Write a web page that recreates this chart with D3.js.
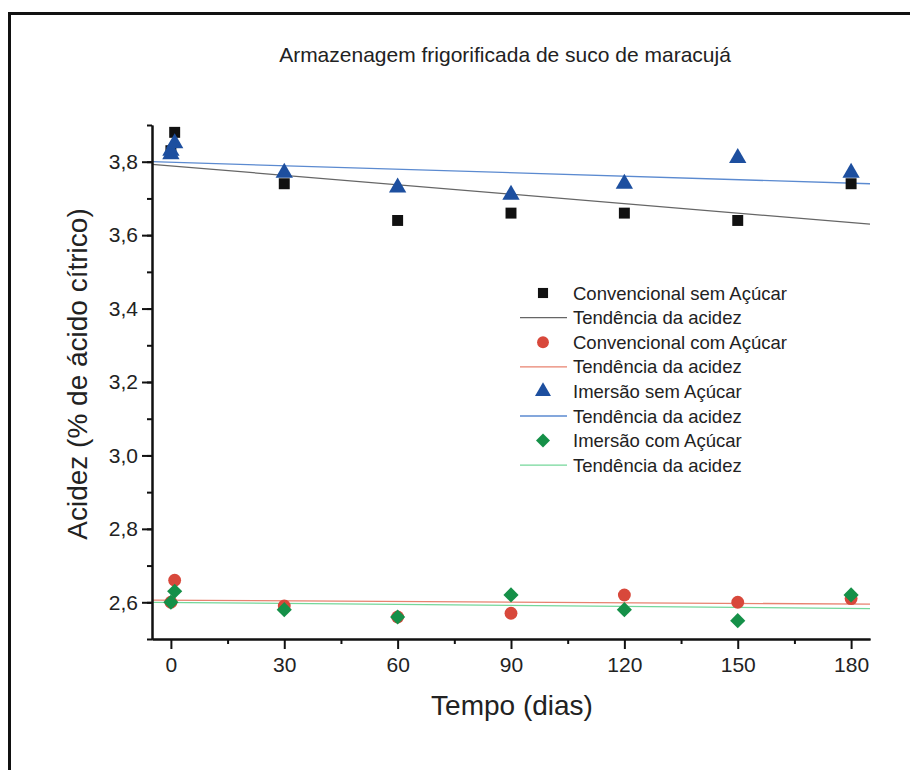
<!DOCTYPE html>
<html>
<head>
<meta charset="utf-8">
<script src="https://cdn.jsdelivr.net/npm/d3@7"></script>
<style>
body { margin: 0; background: #fff; }
text { font-family: "Liberation Sans", Arial, sans-serif; fill: #222; }
</style>
</head>
<body>
<script>
// tempo (dias) e acidez
var diasConvSem = [0, 1, 30, 60, 90, 120, 150, 180];
var acidConvSem = [3.83, 3.88, 3.74, 3.64, 3.66, 3.66, 3.64, 3.74];
var diasConvCom = [0, 1, 30, 60, 90, 120, 150, 180];
var acidConvCom = [2.60, 2.66, 2.59, 2.56, 2.57, 2.62, 2.60, 2.61];
var diasImerSem = [0, 0, 1, 30, 60, 90, 120, 150, 180];
var acidImerSem = [3.82, 3.83, 3.85, 3.77, 3.73, 3.71, 3.74, 3.81, 3.77];
var diasImerCom = [0, 1, 30, 60, 90, 120, 150, 180];
var acidImerCom = [2.60, 2.63, 2.58, 2.56, 2.62, 2.58, 2.55, 2.62];

// tendencias: valor no inicio e no fim do eixo
var tendDias = [-5, 185];
var tendConvSem = [3.793, 3.63];
var tendConvCom = [2.606, 2.595];
var tendImerSem = [3.80, 3.74];
var tendImerCom = [2.600, 2.583];

var xTicks = [0, 30, 60, 90, 120, 150, 180];
var yTicks = [2.6, 2.8, 3.0, 3.2, 3.4, 3.6, 3.8];

// losango = quadrado girado
var symDiamond = {
	draw: function(ctx, size){
		var r = Math.sqrt(size / 2);
		ctx.moveTo(0, -r); ctx.lineTo(r, 0); ctx.lineTo(0, r); ctx.lineTo(-r, 0); ctx.closePath();
	}
};

var series = [
	{ name: "Convencional sem Açúcar", dias: diasConvSem, vals: acidConvSem, tend: tendConvSem, sym: d3.symbolSquare, size: 120, color: "#111", line: "#666" },
	{ name: "Convencional com Açúcar", dias: diasConvCom, vals: acidConvCom, tend: tendConvCom, sym: d3.symbolCircle, size: 130, color: "#d8483b", line: "#e8826f" },
	{ name: "Imersão sem Açúcar", dias: diasImerSem, vals: acidImerSem, tend: tendImerSem, sym: d3.symbolTriangle, size: 130, color: "#1d4f9f", line: "#5b8ad0" },
	{ name: "Imersão com Açúcar", dias: diasImerCom, vals: acidImerCom, tend: tendImerCom, sym: symDiamond, size: 115, color: "#159048", line: "#74d79a" }
];

var W = 910, H = 770;
var svg = d3.select("body").append("svg").attr("width", W).attr("height", H);

// moldura
svg.append("path").attr("d", "M9.5," + H + "V13.5H" + W)
	.attr("fill", "none").attr("stroke", "#111").attr("stroke-width", 3);

var x = d3.scaleLinear().domain([-5, 185]).range([152, 870]);
var y = d3.scaleLinear().domain([2.5, 3.9]).range([639, 125]);

svg.append("text").attr("x", 505).attr("y", 62).attr("text-anchor", "middle")
	.style("font-size", "21px").text("Armazenagem frigorificada de suco de maracujá");

// linhas de tendencia
series.forEach(function(s){
	svg.append("line")
		.attr("x1", x(tendDias[0])).attr("y1", y(s.tend[0]))
		.attr("x2", x(tendDias[1])).attr("y2", y(s.tend[1]))
		.attr("stroke", s.line).attr("stroke-width", 1.3);
});

// pontos
series.forEach(function(s){
	svg.append("g").selectAll("path")
		.data(s.dias)
		.enter()
		.append("path")
		.attr("d", d3.symbol().type(s.sym).size(s.size))
		.attr("transform", function(d, i){
			return "translate(" + x(d) + "," + y(s.vals[i]) + ")";
		})
		.attr("fill", s.color);
});

// eixos
var fmt = function(d){ return d3.format(".1f")(d).replace(".", ","); };
var minorY = d3.range(2.5, 3.95, 0.1);
var minorX = d3.range(15, 185, 30);

var gy = svg.append("g").attr("transform", "translate(152,0)");
gy.call(d3.axisLeft(y).tickValues(minorY).tickSize(5).tickSizeOuter(0).tickFormat(""));
gy.append("g").call(d3.axisLeft(y).tickValues(yTicks).tickSize(10).tickSizeOuter(0).tickPadding(4).tickFormat(fmt));

var gx = svg.append("g").attr("transform", "translate(0,639)");
gx.call(d3.axisBottom(x).tickValues(minorX).tickSize(5).tickSizeOuter(0).tickFormat(""));
gx.append("g").call(d3.axisBottom(x).tickValues(xTicks).tickSize(10).tickSizeOuter(0).tickPadding(8));

svg.selectAll(".domain").attr("stroke", "#111").attr("stroke-width", 2);
svg.selectAll(".tick line").attr("stroke", "#111").attr("stroke-width", 2);
svg.selectAll(".tick text").style("font-size", "21px").attr("fill", "#222")
	.style("font-family", "'Liberation Sans', Arial, sans-serif");

svg.append("text").attr("x", 512).attr("y", 715).attr("text-anchor", "middle")
	.style("font-size", "28px").text("Tempo (dias)");
svg.append("text").attr("transform", "translate(87,374) rotate(-90)").attr("text-anchor", "middle")
	.style("font-size", "28px").text("Acidez (% de ácido cítrico)");

// legenda
var leg = svg.append("g");
series.forEach(function(s, i){
	var y0 = 293 + i * 49.2;
	leg.append("path").attr("d", d3.symbol().type(s.sym).size(s.size * 0.85))
		.attr("transform", "translate(543," + y0 + ")").attr("fill", s.color);
	leg.append("text").attr("x", 573).attr("y", y0 + 6.5).style("font-size", "18.5px").text(s.name);
	leg.append("line").attr("x1", 520).attr("x2", 567).attr("y1", y0 + 24.6).attr("y2", y0 + 24.6)
		.attr("stroke", s.line).attr("stroke-width", 1.3);
	leg.append("text").attr("x", 573).attr("y", y0 + 31.1).style("font-size", "18.5px").text("Tendência da acidez");
});
</script>
</body>
</html>
